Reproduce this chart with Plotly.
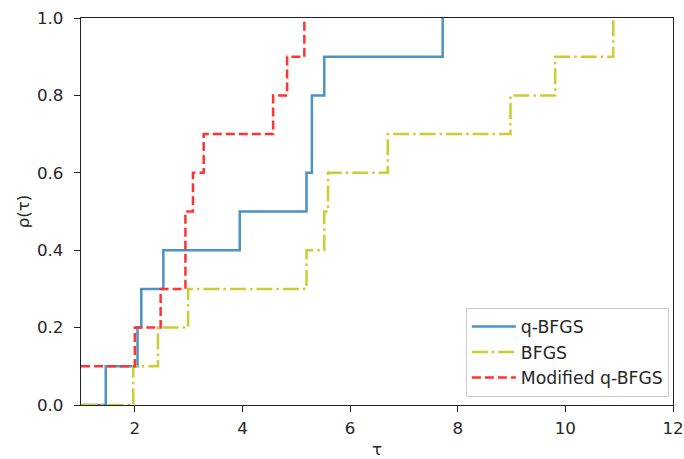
import plotly.graph_objects as go

# Performance profile data (step locations and fraction of problems)
qbfgs_tau = [1.0, 1.46, 2.05, 2.12, 2.53, 3.95, 5.19, 5.29, 5.52, 7.72]
qbfgs_rho = [0.0, 0.1, 0.2, 0.3, 0.4, 0.5, 0.6, 0.8, 0.9, 1.0]

bfgs_tau = [1.0, 1.97, 2.43, 2.99, 5.19, 5.52, 5.59, 6.70, 8.98, 9.81, 10.89]
bfgs_rho = [0.0, 0.1, 0.2, 0.3, 0.4, 0.5, 0.6, 0.7, 0.8, 0.9, 1.0]

mqbfgs_tau = [1.0, 2.00, 2.48, 2.94, 3.08, 3.28, 4.57, 4.83, 5.15]
mqbfgs_rho = [0.1, 0.2, 0.3, 0.5, 0.6, 0.7, 0.8, 0.9, 1.0]

x_ticks = [2, 4, 6, 8, 10, 12]
y_ticks = [0.0, 0.2, 0.4, 0.6, 0.8, 1.0]

FONT = "DejaVu Sans"
FS = 16.7
TXT = "#262626"

fig = go.Figure()
fig.add_trace(go.Scatter(
    x=qbfgs_tau, y=qbfgs_rho, mode="lines", name="q-BFGS",
    line=dict(shape="hv", color="#4c92c3", width=2.5), legendgroup="a"))
fig.add_trace(go.Scatter(
    x=bfgs_tau, y=bfgs_rho, mode="lines", name="BFGS",
    line=dict(shape="hv", color="#cccc33", width=2.5, dash="16px,4px,2.5px,4px"),
    legendgroup="b"))
fig.add_trace(go.Scatter(
    x=mqbfgs_tau, y=mqbfgs_rho, mode="lines", name="Modified q-BFGS",
    line=dict(shape="hv", color="#ff3333", width=2.5, dash="9px,4px"),
    legendgroup="c"))

axis_common = dict(
    showline=True, mirror=True, linecolor="#222222", linewidth=1.3,
    ticks="outside", ticklen=6, tickwidth=1.3, tickcolor="#222222",
    showgrid=False, zeroline=False, automargin=False,
    ticklabeloverflow="allow",
    tickfont=dict(family=FONT, size=FS, color=TXT),
)

fig.update_xaxes(range=[1, 12], tickvals=x_ticks, ticktext=[str(v) for v in x_ticks],
                 ticklabelstandoff=2,
                 title=dict(text="τ", font=dict(family=FONT, size=FS, color=TXT),
                            standoff=7),
                 **axis_common)
fig.update_yaxes(range=[0, 1], tickvals=y_ticks, ticktext=[f"{v:.1f}" for v in y_ticks],
                 ticklabelstandoff=7,
                 title=dict(text="ρ(τ)", font=dict(family=FONT, size=FS, color=TXT),
                            standoff=3),
                 **axis_common)

fig.update_layout(
    width=684, height=459,
    margin=dict(l=81, r=11, t=18, b=54),
    paper_bgcolor="white", plot_bgcolor="white",
    font=dict(family=FONT, size=FS, color=TXT),
    legend=dict(
        x=0.993, y=0.021, xanchor="right", yanchor="bottom",
        bgcolor="rgba(255,255,255,0.8)", bordercolor="#cccccc", borderwidth=1,
        font=dict(family=FONT, size=17.3, color=TXT),
        traceorder="grouped", tracegroupgap=0, itemwidth=44,
    ),
    showlegend=True,
)

fig.write_html("out.html")
